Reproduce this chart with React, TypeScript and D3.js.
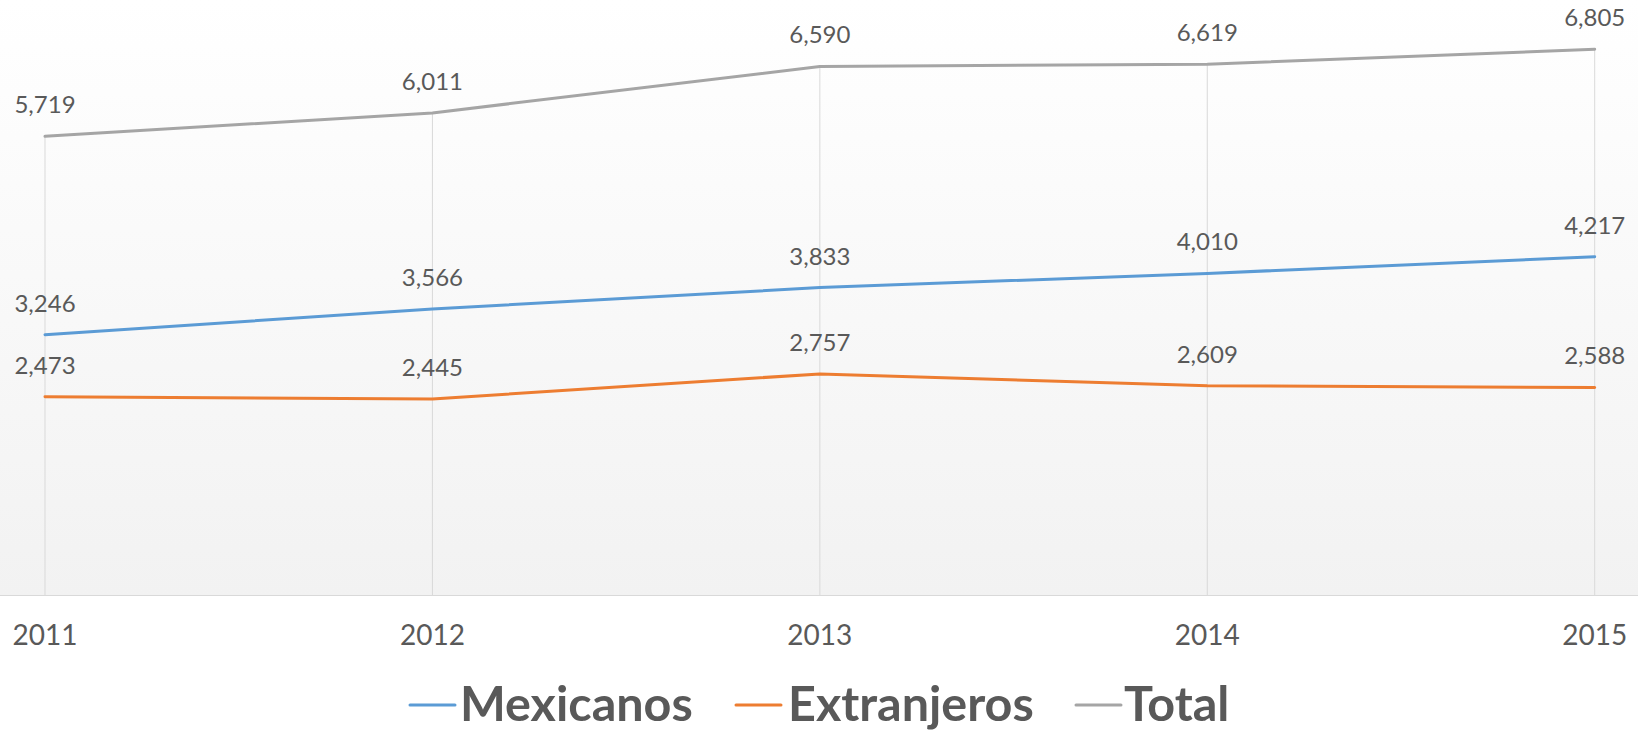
import React from "react";
import * as d3 from "d3";

const years = ["2011", "2012", "2013", "2014", "2015"];
const mexicanos = [3246, 3566, 3833, 4010, 4217];
const extranjeros = [2473, 2445, 2757, 2609, 2588];
const total = [5719, 6011, 6590, 6619, 6805];

const seriesNames = ["Mexicanos", "Extranjeros", "Total"];
const seriesColors = ["#5b9bd5", "#ed7d31", "#a5a5a5"];
const seriesValues = [mexicanos, extranjeros, total];

const W = 1638;
const H = 732;
const FONT = "Lato, 'Open Sans', sans-serif";
const TEXT = "#595959";

export default function App() {
  const x = d3.scalePoint<string>().domain(years).range([45, 1594.7]);
  const y = d3.scaleLinear().domain([0, 7000]).range([595, 33.6]);
  const line = d3
    .line<number>()
    .x((_, i) => x(years[i]) as number)
    .y((d) => y(d));

  const legendLineX = [410, 736, 1076];
  const legendTextX = [460, 788, 1124];

  return (
    <svg
      width={W}
      height={H}
      style={{ position: "absolute", left: 0, top: 0, background: "#ffffff" }}
      fontFamily={FONT}
    >
      <defs>
        <linearGradient id="plotBg" x1="0" y1="0" x2="0" y2="1">
          <stop offset="0%" stopColor="#ffffff" />
          <stop offset="100%" stopColor="#f2f2f2" />
        </linearGradient>
      </defs>
      <rect x={0} y={0} width={W} height={y(0)} fill="url(#plotBg)" />
      {/* drop lines */}
      {years.map((yr, i) => {
        const maxV = Math.max(...seriesValues.map((s) => s[i]));
        return (
          <line
            key={yr}
            x1={x(yr)}
            x2={x(yr)}
            y1={y(maxV)}
            y2={y(0)}
            stroke="#d9d9d9"
            strokeWidth={1}
          />
        );
      })}
      {/* axis line */}
      <line x1={0} x2={W} y1={y(0) + 0.5} y2={y(0) + 0.5} stroke="#d9d9d9" strokeWidth={1} />
      {/* series lines */}
      {seriesValues.map((vals, si) => (
        <path
          key={seriesNames[si]}
          d={line(vals) || ""}
          fill="none"
          stroke={seriesColors[si]}
          strokeWidth={3}
          strokeLinejoin="round"
          strokeLinecap="round"
        />
      ))}
      {/* data labels */}
      {seriesValues.map((vals, si) =>
        vals.map((v, i) => (
          <text
            key={seriesNames[si] + i}
            x={x(years[i])}
            y={y(v) - 23}
            textAnchor="middle"
            fontSize={24}
            fill={TEXT}
          >
            {d3.format(",")(v)}
          </text>
        ))
      )}
      {/* x axis labels */}
      {years.map((yr) => (
        <text key={yr} x={x(yr)} y={645} textAnchor="middle" fontSize={28} fill={TEXT}>
          {yr}
        </text>
      ))}
      {/* legend */}
      {seriesNames.map((name, si) => (
        <g key={name}>
          <line
            x1={legendLineX[si]}
            x2={legendLineX[si] + 45}
            y1={705}
            y2={705}
            stroke={seriesColors[si]}
            strokeWidth={3}
            strokeLinecap="round"
          />
          <text x={legendTextX[si]} y={720.7} fontSize={48.5} fontWeight="bold" fill={TEXT}>
            {name}
          </text>
        </g>
      ))}
    </svg>
  );
}
